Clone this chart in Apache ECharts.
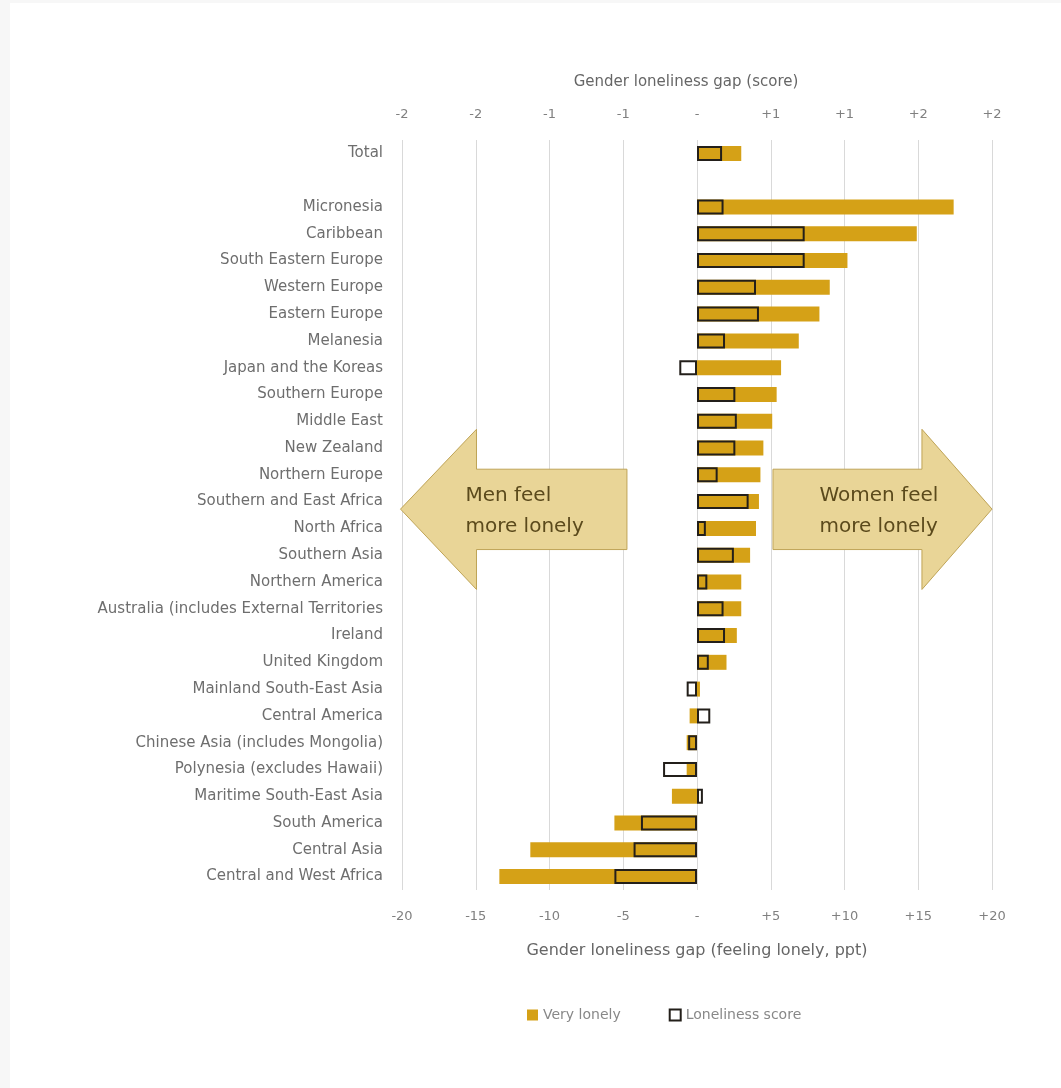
<!DOCTYPE html>
<html>
<head>
<meta charset="utf-8">
<script src="https://cdn.jsdelivr.net/npm/echarts@6/dist/echarts.min.js"></script>
<style>
  html, body { margin: 0; padding: 0; background: #f7f7f7; width: 1061px; height: 1088px; overflow: hidden; }
  #chart { position: absolute; left: 10px; top: 3px; width: 1051px; height: 1085px; background: #ffffff; }
</style>
</head>
<body>
<div id="chart"></div>
<script>
const categories = ['Total', '', 'Micronesia', 'Caribbean', 'South Eastern Europe', 'Western Europe', 'Eastern Europe',
  'Melanesia', 'Japan and the Koreas', 'Southern Europe', 'Middle East', 'New Zealand', 'Northern Europe',
  'Southern and East Africa', 'North Africa', 'Southern Asia', 'Northern America',
  'Australia (includes External Territories', 'Ireland', 'United Kingdom', 'Mainland South-East Asia',
  'Central America', 'Chinese Asia (includes Mongolia)', 'Polynesia (excludes Hawaii)',
  'Maritime South-East Asia', 'South America', 'Central Asia', 'Central and West Africa'];

// Gender gap in share feeling very lonely (ppt)
const veryLonely = [3.0, null, 17.4, 14.9, 10.2, 9.0, 8.3, 6.9, 5.7, 5.4, 5.1, 4.5, 4.3, 4.2, 4.0, 3.6,
  3.0, 3.0, 2.7, 2.0, 0.2, -0.5, -0.7, -0.7, -1.7, -5.6, -11.3, -13.4];

// Gender gap in loneliness score
const lonelinessScore = [0.17, null, 0.18, 0.73, 0.73, 0.40, 0.42, 0.19, -0.12, 0.26, 0.27, 0.26, 0.14,
  0.35, 0.06, 0.25, 0.07, 0.18, 0.19, 0.08, -0.07, 0.09, -0.06, -0.23, 0.04, -0.38, -0.43, -0.56];

const pptTicks = { min: -20, max: 20, interval: 5 };
const scoreTicks = { min: -2, max: 2, interval: 0.5 };

const GOLD = '#d5a117';
const OUTLINE = '#231f1a';
const TXT = '#666666';
const TICK = '#808080';
const FONT = 'DejaVu Sans';

function pptLabel(v) {
  if (Math.abs(v) < 1e-9) return '-';
  return (v > 0 ? '+' : '-') + Math.abs(v);
}
function scoreLabel(v) {
  if (Math.abs(v) < 1e-9) return '-';
  return (v > 0 ? '+' : '-') + Math.round(Math.abs(v));
}

const chart = echarts.init(document.getElementById('chart'), null, { renderer: 'canvas' });

const option = {
  backgroundColor: '#ffffff',
  animation: false,
  textStyle: { fontFamily: FONT },
  grid: { left: 392, right: 69, top: 137, bottom: 198, containLabel: false },
  legend: {
    left: 512, top: 1000,
    itemWidth: 11, itemHeight: 11, itemGap: 48,
    textStyle: { color: '#888888', fontSize: 14, fontFamily: FONT },
    data: [
      { name: 'Very lonely', icon: 'rect' },
      { name: 'Loneliness score', icon: 'rect', itemStyle: { color: '#ffffff', borderColor: OUTLINE, borderWidth: 2 } }
    ]
  },
  xAxis: [
    {
      type: 'value', position: 'bottom',
      min: pptTicks.min, max: pptTicks.max, interval: pptTicks.interval,
      axisLine: { show: false }, axisTick: { show: false },
      splitLine: { show: true, lineStyle: { color: '#d9d9d9', width: 1 } },
      axisLabel: { color: TICK, fontSize: 13, margin: 20, formatter: pptLabel, fontFamily: FONT },
      name: 'Gender loneliness gap (feeling lonely, ppt)', nameLocation: 'middle', nameGap: 53,
      nameTextStyle: { color: TXT, fontSize: 16, fontFamily: FONT }
    },
    {
      type: 'value', position: 'top',
      min: scoreTicks.min, max: scoreTicks.max, interval: scoreTicks.interval,
      axisLine: { show: false }, axisTick: { show: false },
      splitLine: { show: false },
      axisLabel: { color: TICK, fontSize: 13, margin: 19, formatter: scoreLabel, fontFamily: FONT },
      name: 'Gender loneliness gap (score)', nameLocation: 'middle', nameGap: 50,
      nameTextStyle: { color: TXT, fontSize: 15, fontFamily: FONT, padding: [0, 22, 0, 0] }
    }
  ],
  yAxis: [
    {
      type: 'category', inverse: true, data: categories,
      axisLine: { show: false }, axisTick: { show: false },
      axisLabel: { color: '#6e6e6e', fontSize: 15, margin: 19, fontFamily: FONT, interval: 0 }
    },
    {
      type: 'category', inverse: true, data: categories, show: false
    }
  ],
  series: [
    {
      name: 'Very lonely', type: 'bar', xAxisIndex: 0, yAxisIndex: 0,
      data: veryLonely, barWidth: 15,
      itemStyle: { color: GOLD }, z: 2
    },
    {
      name: 'Loneliness score', type: 'bar', xAxisIndex: 1, yAxisIndex: 1,
      data: lonelinessScore, barWidth: 15,
      itemStyle: { color: 'rgba(0,0,0,0)', borderColor: OUTLINE, borderWidth: 2 }, z: 3
    }
  ]
};
chart.setOption(option);

// Annotation arrows positioned in data space (ppt on x, row index on y)
function px(v) { return chart.convertToPixel({ xAxisIndex: 0 }, v); }
const y0 = chart.convertToPixel({ yAxisIndex: 0 }, categories[0]);
const yN = chart.convertToPixel({ yAxisIndex: 0 }, categories[categories.length - 1]);
const step = (yN - y0) / (categories.length - 1);
function py(i) { return y0 + i * step; }

const leftArrow = [[-20.1, 13.28], [-14.95, 10.3], [-14.95, 11.79], [-4.75, 11.79], [-4.75, 14.79], [-14.95, 14.79], [-14.95, 16.28]];
const rightArrow = [[20.0, 13.28], [15.25, 10.3], [15.25, 11.79], [5.15, 11.79], [5.15, 14.79], [15.25, 14.79], [15.25, 16.28]];
function toPts(a) { return a.map(p => [px(p[0]), py(p[1])]); }

const arrowStyle = { fill: '#e9d597', stroke: '#bfa457', lineWidth: 1 };
const arrowText = { fill: '#5b4a1c', fontSize: 20, fontFamily: FONT, textAlign: 'left', textVerticalAlign: 'middle' };

chart.setOption({
  graphic: [
    { type: 'polygon', shape: { points: toPts(leftArrow) }, style: arrowStyle, z: 10 },
    { type: 'polygon', shape: { points: toPts(rightArrow) }, style: arrowStyle, z: 10 },
    { type: 'text', x: px(-15.7), y: py(12.8), style: Object.assign({ text: 'Men feel' }, arrowText), z: 11 },
    { type: 'text', x: px(-15.7), y: py(13.93), style: Object.assign({ text: 'more lonely' }, arrowText), z: 11 },
    { type: 'text', x: px(8.3), y: py(12.8), style: Object.assign({ text: 'Women feel' }, arrowText), z: 11 },
    { type: 'text', x: px(8.3), y: py(13.93), style: Object.assign({ text: 'more lonely' }, arrowText), z: 11 }
  ]
});
</script>
</body>
</html>
